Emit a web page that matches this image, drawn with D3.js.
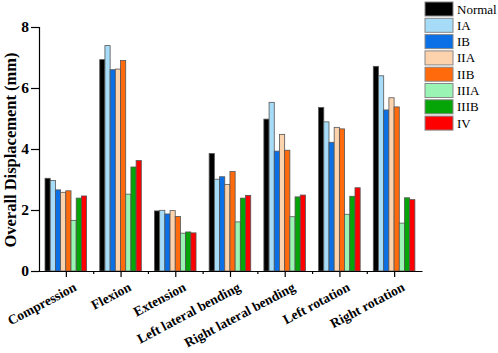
<!DOCTYPE html>
<html>
<head>
<meta charset="utf-8">
<script src="https://cdn.jsdelivr.net/npm/d3@7"></script>
<style>
  body { margin: 0; background: #fff; }
  svg { display: block; }
  text { font-family: "Liberation Serif", "Times New Roman", serif; }
</style>
</head>
<body>
<svg id="chart" width="498" height="353"></svg>
<script>
const categories = ["Compression", "Flexion", "Extension", "Left lateral bending", "Right lateral bending", "Left rotation", "Right rotation"];
const seriesNames = ["Normal", "IA", "IB", "IIA", "IIB", "IIIA", "IIIB", "IV"];
const seriesColors = ["#000000", "#a6dcf7", "#0b6fe6", "#fdd3ae", "#ff6a0c", "#9af4b3", "#05a407", "#ff0000"];
const Normal = [3.04, 6.93, 1.97, 3.85, 4.98, 5.36, 6.71];
const IA     = [2.97, 7.39, 1.99, 3.01, 5.53, 4.89, 6.40];
const IB     = [2.66, 6.60, 1.87, 3.09, 3.93, 4.22, 5.28];
const IIA    = [2.58, 6.62, 1.98, 2.84, 4.48, 4.71, 5.68];
const IIB    = [2.63, 6.90, 1.79, 3.26, 3.96, 4.66, 5.38];
const IIIA   = [1.66, 2.52, 1.24, 1.61, 1.78, 1.86, 1.57];
const IIIB   = [2.39, 3.41, 1.28, 2.39, 2.43, 2.45, 2.40];
const IV     = [2.46, 3.62, 1.25, 2.48, 2.49, 2.73, 2.34];
const seriesValues = [Normal, IA, IB, IIA, IIB, IIIA, IIIB, IV];
const yTicks = [0, 2, 4, 6, 8];

(function () {
const svg = d3.select("#chart");
const mLeft = 39, mRight = 422, mTop = 27, mBottom = 271;

const x0 = d3.scaleBand().domain(categories).range([mLeft, mRight]).paddingInner(0).paddingOuter(0);
const bw = x0.bandwidth();
const x1 = d3.scaleBand().domain(seriesNames).range([bw * 0.11, bw * 0.87]).padding(0);
const y = d3.scaleLinear().domain([0, 8]).range([mBottom, mTop]);

// bars
const groups = svg.append("g").selectAll("g")
  .data(categories)
  .join("g")
  .attr("transform", d => `translate(${x0(d)},0)`);

groups.selectAll("rect")
  .data((c, ci) => seriesNames.map((s, si) => ({ s, si, v: seriesValues[si][ci] })))
  .join("rect")
  .attr("x", d => x1(d.s))
  .attr("y", d => y(d.v))
  .attr("width", x1.bandwidth())
  .attr("height", d => y(0) - y(d.v))
  .attr("fill", d => seriesColors[d.si])
  .attr("stroke", "#555")
  .attr("stroke-width", 0.8);

// y axis
const yAxis = svg.append("g")
  .attr("transform", `translate(${mLeft},0)`)
  .call(d3.axisLeft(y).tickValues(yTicks).tickFormat(d3.format("d")).tickSize(8).tickPadding(2));
yAxis.select(".domain").attr("stroke", "#000").attr("stroke-width", 1.2);
yAxis.selectAll(".tick line").attr("stroke", "#000").attr("stroke-width", 1.2);
yAxis.selectAll(".tick text")
  .attr("font-family", "Liberation Serif, serif")
  .attr("font-weight", "bold")
  .attr("font-size", 15.5)
  .attr("fill", "#000");

// x axis
const xAxis = svg.append("g")
  .attr("transform", `translate(0,${mBottom})`)
  .call(d3.axisBottom(x0).tickSize(6).tickSizeOuter(0).tickFormat(""));
xAxis.select(".domain").attr("stroke", "#000").attr("stroke-width", 1.2);
xAxis.selectAll(".tick line").attr("stroke", "#000").attr("stroke-width", 1.2);
xAxis.selectAll(".minor")
  .data(categories.slice(1))
  .join("line")
  .attr("class", "minor")
  .attr("x1", d => x0(d)).attr("x2", d => x0(d))
  .attr("y1", 0).attr("y2", 3)
  .attr("stroke", "#000").attr("stroke-width", 1.2);

// x labels rotated
svg.append("g").selectAll("text")
  .data(categories)
  .join("text")
  .attr("transform", d => `translate(${x0(d) + bw / 2 + 11},290) rotate(-28)`)
  .attr("text-anchor", "end")
  .attr("font-weight", "bold")
  .attr("font-size", 13.5)
  .attr("fill", "#000")
  .text(d => d);

// y axis title
svg.append("text")
  .attr("transform", `translate(16,150) rotate(-90)`)
  .attr("text-anchor", "middle")
  .attr("font-weight", "bold")
  .attr("font-size", 16.5)
  .attr("fill", "#000")
  .text("Overall Displacement (mm)");

// legend
const legend = svg.append("g").attr("transform", "translate(425,2)");
const rowH = 16.3;
const items = legend.selectAll("g")
  .data(seriesNames)
  .join("g")
  .attr("transform", (d, i) => `translate(0,${i * rowH})`);
items.append("rect")
  .attr("width", 28).attr("height", 14)
  .attr("fill", (d, i) => seriesColors[i])
  .attr("stroke", "#888")
  .attr("stroke-width", 1);
items.append("text")
  .attr("x", 32).attr("y", 11.5)
  .attr("font-size", 13)
  .attr("fill", "#000")
  .text(d => d);
})();
</script>
</body>
</html>
